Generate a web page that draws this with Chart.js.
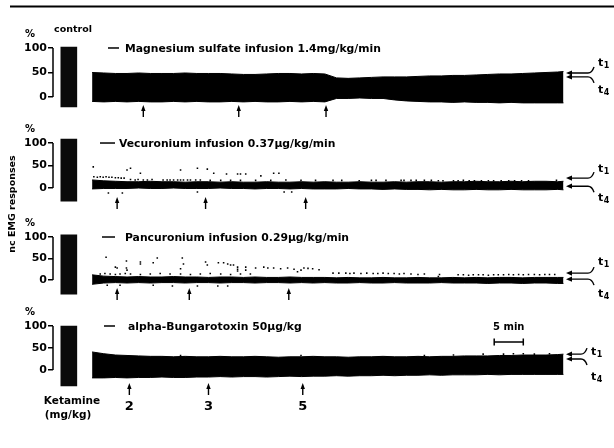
<!DOCTYPE html>
<html>
<head>
<meta charset="utf-8">
<script src="https://cdn.jsdelivr.net/npm/chart.js@4.4.1/dist/chart.umd.min.js"></script>
<style>
  html, body { margin: 0; padding: 0; background: #fff; }
  #wrap { width: 614px; height: 448px; }
</style>
</head>
<body>
<div id="wrap"><canvas id="emg" width="614" height="448"></canvas></div>
<script>
// time (min) after start of each infusion, and the EMG band edges (% of control)
const minutes = [0,2,4,6,8,10,12,14,16,18,20,22,24,26,28,30,32,34,36,38,40,42,44,46,48,50,52,54,56,58,60,62,64,66,68,70,72,74,76,78,80,81];

const mgTop = [50,49,48,48,49,48,48,48,49,48, 48,48,47,46,46,47,48,48,47,48, 47,39,38,39,40,41,41,41,42,43, 43,44,44,45,46,47,47,48,49,50, 51,52];
const mgBottom = [-9,-10,-9,-10,-9,-10,-10,-9,-10,-9, -10,-10,-9,-10,-9,-10,-10,-9,-10,-9, -10,-3,-3,-2,-3,-3,-6,-8,-9,-10, -10,-11,-10,-11,-11,-12,-11,-12,-12,-12, -12,-12];

const vecTop = [18,16,15,14,14,15,14,14,13,14, 14,13,14,13,13,14,13,13,14,13, 14,13,13,14,13,13,14,13,14,14, 13,14,14,15,14,14,15,14,15,15, 14,15];
const vecBottom = [-2,-1,-1,-1,0,-1,-1,0,-1,-1, -1,0,-1,-1,-2,-1,-1,-2,-1,-2, -2,-2,-1,-2,-2,-3,-2,-3,-3,-4, -3,-4,-4,-3,-4,-4,-3,-4,-4,-4, -3,-4];

const pancTop = [12,9,8,7,8,7,7,8,7,7, 6,7,7,6,7,6,6,7,6,6, 6,5,6,5,5,6,5,5,6,5, 5,6,5,6,5,6,6,5,6,6, 6,6];
const pancBottom = [-10,-7,-6,-7,-6,-7,-6,-6,-7,-6, -6,-7,-6,-6,-7,-6,-6,-7,-6,-7, -6,-7,-7,-6,-7,-7,-6,-7,-7,-7, -6,-7,-7,-7,-8,-7,-7,-8,-7,-7, -8,-8];

const bgtTop = [41,37,34,33,32,31,31,30,31,30, 30,31,30,30,31,30,29,30,30,31, 30,30,29,30,30,31,30,30,31,30, 31,31,32,32,32,33,33,34,34,34, 35,36];
const bgtBottom = [-18,-18,-17,-18,-17,-17,-16,-17,-17,-16, -16,-15,-16,-15,-15,-16,-15,-14,-15,-14, -14,-13,-14,-13,-13,-12,-13,-12,-12,-11, -12,-11,-11,-11,-10,-11,-10,-10,-10,-10, -10,-10];

// single t1 responses scattered above the t4 trace [min, %]
const vecDots = [
  [0.3,25],[0.9,24],[1.4,25],[1.9,24],[2.4,25],[2.9,24],[3.4,24],[4.0,23],[4.5,23],[5.0,22],[5.5,22],
  [6.6,19],[7.4,18],[7.9,19],[8.8,18],[9.5,18],[10.3,19],[12.2,18],[12.9,18],[13.4,18],[14.0,18],[14.7,18],
  [15.2,18],[15.7,18],[16.4,18],[16.9,18],[17.8,18],[18.6,18],[20.3,17],[22.1,17],[23.8,17],[25.5,17],
  [28.1,17],[30.7,17],[33.3,18],[35.9,17],[38.4,17],
  [41.4,17],[42.9,17],[45.9,16],[48.0,17],[48.8,17],[50.5,17],[53.1,17],[53.6,17],[54.8,17],[55.7,17],
  [57.1,17],[58.3,17],[59.5,16],[60.3,16],[62.1,16],[62.9,16],[63.8,17],[64.8,16],[65.7,16],[66.9,16],
  [68.1,16],[69.0,16],[70.3,16],[71.6,16],[72.6,16],[73.8,16],[75.0,16],[79.8,17],
  [0.2,47],[6.0,40],[6.6,44],[8.3,33],[15.2,40],[18.1,44],[19.8,42],[20.9,33],[23.1,31],[25.0,31],
  [25.5,31],[26.4,31],[29.0,27],[31.2,33],[32.1,33],
  [2.8,-11],[5.2,-11],[18.1,-9],[33.0,-9],[34.3,-9]
];
const pancDots = [
  [1.4,14],[2.2,15],[3.1,14],[4.0,13],[4.8,14],[5.7,15],[6.6,14],[8.3,13],[10.0,14],[11.7,15],[13.4,14],
  [15.2,14],[16.9,13],[18.6,14],[20.3,15],[22.1,14],[23.8,13],[25.5,14],[27.2,14],
  [2.4,53],[4.0,30],[4.3,28],[5.9,44],[5.9,28],[6.0,23],[8.3,42],[8.3,37],[10.5,40],[11.2,51],[15.2,26],
  [15.5,51],[15.7,37],[19.5,42],[19.8,35],[21.7,40],[22.6,40],[23.3,37],[23.8,35],[24.3,35],[25.0,30],
  [25.0,25],[25.0,21],[26.4,30],[26.4,23],[28.1,28],[29.5,30],[30.2,28],[31.2,28],[32.4,26],[33.6,28],
  [34.7,25],[35.3,19],[35.9,23],[36.4,28],[37.1,27],[37.9,26],[39.0,24],
  [41.4,16],[42.4,16],[43.6,16],[44.3,15],[45.0,16],[46.2,15],[47.2,16],[48.3,15],[49.1,15],[50.0,16],
  [50.9,15],[51.9,15],[52.8,14],[53.6,15],[54.8,14],[56.0,13],[57.1,14],[59.7,13],[59.5,8],
  [62.9,12],[63.8,12],[64.7,11],[65.5,12],[66.4,12],[67.2,12],[68.1,11],[69.0,12],[69.8,12],[70.7,12],
  [71.6,13],[72.4,12],[73.3,13],[74.1,12],[75.0,13],[76.0,13],[76.9,12],[77.8,13],[78.6,13],[79.5,13],
  [2.6,-12],[4.8,-12],[10.5,-12],[13.8,-14],[18.1,-14],[21.6,-14],[23.3,-14]
];
const bgtDots = [[15.2,33],[35.9,33],[57.1,33],[62.1,34],[67.2,36],[70.7,36],[72.4,37],[74.1,37],[76.0,36],[78.6,37]];

// control period bars (% range) drawn before the infusion
const controlMinute = -4.0;
const controlLow = [-20, -29, -33, -36];
const controlHigh = [102, 109, 105, 100];

// ketamine doses (mg/kg) and when they were given in each record
const ketamineDoses = ['2', '3', '5'];
const ketamineMg = [8.8, 25.2, 40.2];
const ketamineVec = [4.3, 19.5, 36.7];
const ketaminePanc = [4.3, 16.7, 33.8];
const ketamineBgt = [6.4, 20.0, 36.2];

const yTicks = [0, 50, 100];
const t1End = [49, 22, 16, 36];
const t4End = [41, 4, 2, 25];
const scaleBar = [69.1, 74.1];

const panels = [
  { axis: 'yMg', title: 'Magnesium sulfate infusion 1.4mg/kg/min', top: mgTop, bottom: mgBottom, dots: [], ket: ketamineMg,
    min: -60.2, max: 126.5, dash: [108, 119], textX: 125, arrowOff: 9, t1dy: -10, t4dy: 13, tx: 598 },
  { axis: 'yVec', title: 'Vecuronium infusion 0.37µg/kg/min', top: vecTop, bottom: vecBottom, dots: vecDots, ket: ketamineVec,
    min: -66.6, max: 136.7, dash: [100, 115], textX: 119, arrowOff: 10, t1dy: -9, t4dy: 12, tx: 598 },
  { axis: 'yPanc', title: 'Pancuronium infusion 0.29µg/kg/min', top: pancTop, bottom: pancBottom, dots: pancDots, ket: ketaminePanc,
    min: -68.6, max: 144.2, dash: [102, 115], textX: 125, arrowOff: 9, t1dy: -11, t4dy: 15, tx: 598 },
  { axis: 'yBgt', title: 'alpha-Bungarotoxin 50µg/kg', top: bgtTop, bottom: bgtBottom, dots: bgtDots, ket: ketamineBgt,
    min: -70.5, max: 137.5, dash: [104, 115], textX: 128, arrowOff: 14, t1dy: -2, t4dy: 18, tx: 591 }
];

const FONT = '"DejaVu Sans", sans-serif';
const datasets = [];
panels.forEach((p, k) => {
  datasets.push({
    type: 'line', yAxisID: p.axis,
    data: minutes.map((m, i) => ({ x: m, y: p.bottom[i] })),
    borderColor: '#000', borderWidth: 1, pointRadius: 0, fill: false
  });
  datasets.push({
    type: 'line', yAxisID: p.axis,
    data: minutes.map((m, i) => ({ x: m, y: p.top[i] })),
    borderColor: '#000', borderWidth: 1, pointRadius: 0, fill: '-1', backgroundColor: '#000'
  });
  datasets.push({
    type: 'bar', yAxisID: p.axis, grouped: false,
    data: [{ x: controlMinute, y: [controlLow[k], controlHigh[k]] }],
    backgroundColor: '#0a0a0a', barThickness: 16
  });
  if (p.dots.length) {
    datasets.push({
      type: 'scatter', yAxisID: p.axis,
      data: p.dots.map(d => ({ x: d[0], y: d[1] })),
      backgroundColor: '#000', borderWidth: 0, pointStyle: 'rect', pointRadius: 1.1
    });
  }
});

function panelAxis(p) {
  return {
    type: 'linear', position: 'left', stack: 'records',
    min: p.min, max: p.max,
    border: { display: false },
    grid: { drawOnChartArea: false, drawTicks: true, tickLength: 5, color: '#000', lineWidth: 1.5 },
    ticks: { color: '#000', padding: 1, font: { family: FONT, size: 11, weight: 'bold' } },
    afterBuildTicks: s => { s.ticks = yTicks.map(v => ({ value: v })); },
    afterFit: s => { s.width = 53; }
  };
}

const scales = {
  x: { type: 'linear', min: -6.72, max: 89, offset: false, display: false }
};
// later left axes in a stack are laid out higher up
[3, 2, 1, 0].forEach(k => { scales[panels[k].axis] = panelAxis(panels[k]); });

function upArrow(ctx, x, y, len) {
  ctx.lineWidth = 1.4;
  ctx.beginPath(); ctx.moveTo(x, y + 3); ctx.lineTo(x, y + len); ctx.stroke();
  ctx.beginPath(); ctx.moveTo(x, y - 1); ctx.lineTo(x - 2.2, y + 5); ctx.lineTo(x + 2.2, y + 5); ctx.closePath(); ctx.fill();
}

function tLabel(ctx, x, y, sub) {
  ctx.textAlign = 'left';
  ctx.font = 'bold 11px ' + FONT;
  ctx.fillText('t', x, y);
  const w = ctx.measureText('t').width;
  ctx.font = 'bold 8px ' + FONT;
  ctx.fillText(sub, x + w + 0.5, y + 3);
}

const figureDecor = {
  id: 'figureDecor',
  afterDraw(chart) {
    const ctx = chart.ctx, xs = chart.scales.x, area = chart.chartArea;
    ctx.save();
    ctx.fillStyle = '#000';
    ctx.strokeStyle = '#000';
    ctx.textBaseline = 'middle';

    // rule left over from the figure above
    ctx.lineWidth = 2;
    ctx.beginPath(); ctx.moveTo(10, 6.5); ctx.lineTo(614, 6.5); ctx.stroke();

    panels.forEach((p, k) => {
      const ys = chart.scales[p.axis];
      const y0 = ys.getPixelForValue(0), y100 = ys.getPixelForValue(100);

      ctx.lineWidth = 1.5;
      ctx.beginPath(); ctx.moveTo(area.left, y100); ctx.lineTo(area.left, y0); ctx.stroke();

      ctx.font = 'bold 10px ' + FONT;
      ctx.textAlign = 'center';
      ctx.fillText('%', 30, y100 - 14);

      ctx.lineWidth = 1.5;
      ctx.beginPath(); ctx.moveTo(p.dash[0], y100); ctx.lineTo(p.dash[1], y100); ctx.stroke();
      ctx.font = 'bold 10.8px ' + FONT;
      ctx.textAlign = 'left';
      ctx.fillText(p.title, p.textX, y100 + 1);

      p.ket.forEach(m => upArrow(ctx, xs.getPixelForValue(m), y0 + p.arrowOff, 11));

      // t1 / t4 markers at the end of the record
      const yU = ys.getPixelForValue(t1End[k]), yL = ys.getPixelForValue(t4End[k]);
      const x0 = 566, x1 = p.tx - 10;
      ctx.lineWidth = 1.4;
      [[yU, -1], [yL, 1]].forEach(([yy, dir]) => {
        ctx.beginPath(); ctx.moveTo(x0 + 4, yy); ctx.lineTo(x1, yy);
        ctx.quadraticCurveTo(x1 + 4, yy, x1 + 6, yy + dir * 6); ctx.stroke();
        ctx.beginPath(); ctx.moveTo(x0, yy); ctx.lineTo(x0 + 6, yy - 2.6); ctx.lineTo(x0 + 6, yy + 2.6); ctx.closePath(); ctx.fill();
      });
      tLabel(ctx, p.tx, yU + p.t1dy, '1');
      tLabel(ctx, p.tx, yL + p.t4dy, '4');
    });

    // doses under the last record
    const yBgt = chart.scales.yBgt;
    ctx.font = 'bold 13px ' + FONT;
    ctx.textAlign = 'center';
    ketamineBgt.forEach((m, i) => ctx.fillText(ketamineDoses[i], xs.getPixelForValue(m), yBgt.getPixelForValue(0) + 37));

    ctx.font = 'bold 10.5px ' + FONT;
    ctx.fillText('Ketamine', 72, 401);
    ctx.fillText('(mg/kg)', 68, 415);

    ctx.font = 'bold 9.5px ' + FONT;
    ctx.fillText('control', 73, 30);

    // 5 min calibration bar
    const bx0 = xs.getPixelForValue(scaleBar[0]), bx1 = xs.getPixelForValue(scaleBar[1]);
    ctx.font = 'bold 10px ' + FONT;
    ctx.fillText('5 min', (bx0 + bx1) / 2, 327);
    ctx.lineWidth = 1.5;
    ctx.beginPath();
    ctx.moveTo(bx0, 342); ctx.lineTo(bx1, 342);
    ctx.moveTo(bx0, 338.5); ctx.lineTo(bx0, 345.5);
    ctx.moveTo(bx1, 338.5); ctx.lineTo(bx1, 345.5);
    ctx.stroke();

    ctx.translate(13, 204);
    ctx.rotate(-Math.PI / 2);
    ctx.font = 'bold 9.5px ' + FONT;
    ctx.fillText('nc EMG responses', 0, 0);
    ctx.restore();
  }
};

new Chart(document.getElementById('emg'), {
  type: 'line',
  data: { datasets: datasets },
  options: {
    responsive: false,
    animation: false,
    events: [],
    layout: { padding: { top: 35, bottom: 47, left: 0, right: 0 } },
    plugins: { legend: { display: false }, tooltip: { enabled: false } },
    scales: scales
  },
  plugins: [figureDecor]
});
</script>
</body>
</html>
